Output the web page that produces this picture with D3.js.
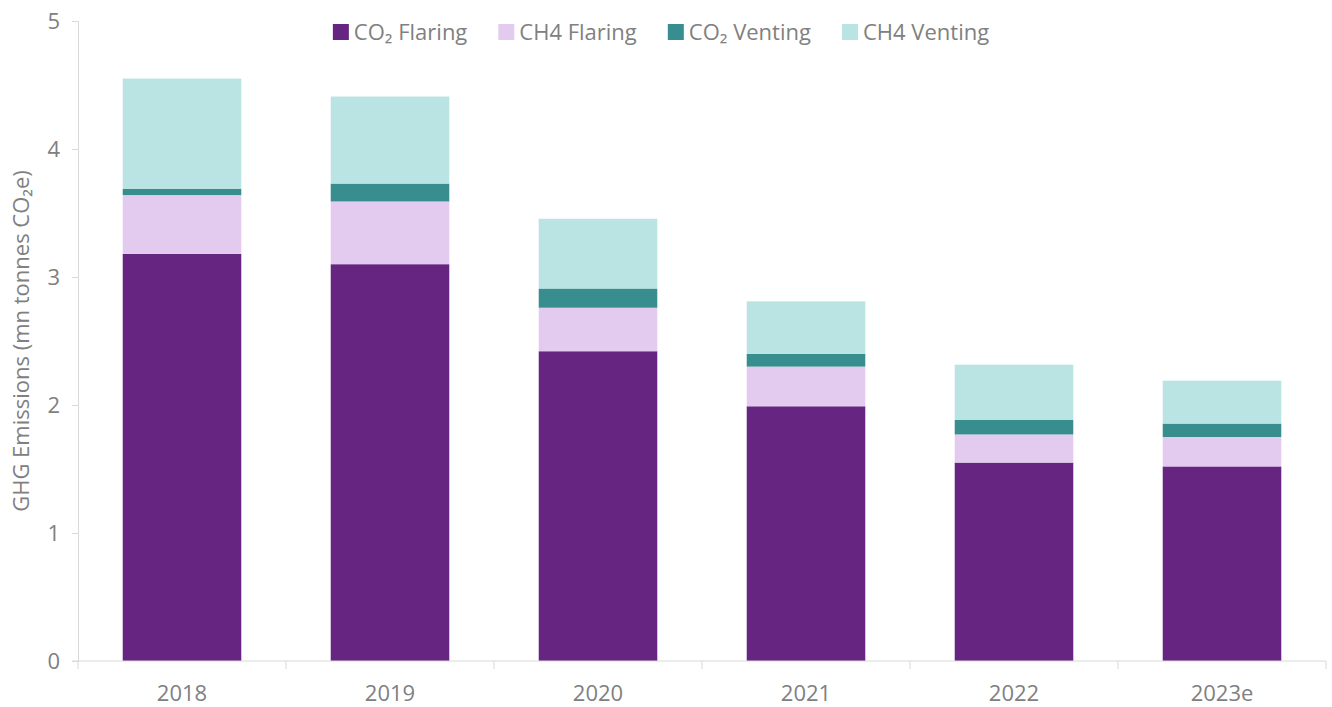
<!DOCTYPE html>
<html>
<head>
<meta charset="utf-8">
<script src="https://cdn.jsdelivr.net/npm/d3@7"></script>
<style>
  body { margin: 0; background: #fff; }
  text { font-family: "Open Sans", "Noto Sans", sans-serif; fill: #808080; }
</style>
</head>
<body>
<div id="chart"></div>
<script>
// chart data
var years = ["2018", "2019", "2020", "2021", "2022", "2023e"];
var seriesNames = ["CO₂ Flaring", "CH4 Flaring", "CO₂ Venting", "CH4 Venting"];
var co2Flaring = [3.18, 3.10, 2.42, 1.99, 1.55, 1.52];
var ch4Flaring = [0.46, 0.49, 0.34, 0.31, 0.22, 0.23];
var co2Venting = [0.05, 0.14, 0.15, 0.10, 0.115, 0.105];
var ch4Venting = [0.86, 0.68, 0.545, 0.41, 0.43, 0.335];
var yTicks = [0, 1, 2, 3, 4, 5];
var colors = ["#652581", "#e3caef", "#388e8e", "#bae4e4"];

var width = 1332, height = 707;
var margin = { top: 21, right: 6, bottom: 46, left: 78 };

var svg = d3.select("#chart")
  .append("svg")
    .attr("width", width)
    .attr("height", height);

// build rows for the stack
var keys = ["a", "b", "c", "d"];
var rows = years.map(function(y, i) {
  return { year: y, a: co2Flaring[i], b: ch4Flaring[i], c: co2Venting[i], d: ch4Venting[i] };
});
var stacked = d3.stack().keys(keys)(rows);

var x = d3.scaleBand()
  .domain(years)
  .range([margin.left, width - margin.right])
  .paddingInner(0.43)
  .paddingOuter(0.215);

var xOuter = d3.scaleBand()
  .domain(years)
  .range([margin.left, width - margin.right]);

var y = d3.scaleLinear()
  .domain([0, 5])
  .range([height - margin.bottom, margin.top]);

// bars
svg.append("g")
  .selectAll("g")
  .data(stacked)
  .enter()
  .append("g")
    .attr("fill", function(d, i) { return colors[i]; })
  .selectAll("rect")
  .data(function(d) { return d; })
  .enter()
  .append("rect")
    .attr("x", function(d) { return x(d.data.year); })
    .attr("width", x.bandwidth())
    .attr("y", function(d) { return y(d[1]); })
    .attr("height", function(d) { return y(d[0]) - y(d[1]); });

// y axis
var yAxis = svg.append("g")
  .attr("transform", "translate(" + margin.left + ",0)")
  .call(d3.axisLeft(y).tickValues(yTicks).tickSize(6).tickPadding(12).tickFormat(d3.format("d")));
yAxis.select(".domain").attr("stroke", "#d9d9d9");
yAxis.selectAll(".tick line").attr("stroke", "#d9d9d9");
yAxis.selectAll(".tick text").attr("font-size", 22).attr("fill", "#808080")
  .style("font-family", "'Open Sans', sans-serif");

// x axis: line and ticks at category boundaries
var base = y(0);
svg.append("line")
  .attr("x1", margin.left - 6).attr("x2", width - margin.right)
  .attr("y1", base).attr("y2", base)
  .attr("stroke", "#d9d9d9");
var bounds = years.map(function(d) { return xOuter(d); }).concat([width - margin.right]);
svg.append("g").selectAll("line")
  .data(bounds)
  .enter()
  .append("line")
    .attr("x1", function(d) { return d; }).attr("x2", function(d) { return d; })
    .attr("y1", base).attr("y2", base + 8)
    .attr("stroke", "#d9d9d9");
svg.append("g").selectAll("text")
  .data(years)
  .enter()
  .append("text")
    .attr("x", function(d) { return xOuter(d) + xOuter.bandwidth() / 2; })
    .attr("y", base + 40)
    .attr("text-anchor", "middle")
    .attr("font-size", 22)
    .text(function(d) { return d; });

// y axis title
svg.append("text")
  .attr("transform", "translate(29," + (margin.top + (base - margin.top) / 2) + ") rotate(-90)")
  .attr("text-anchor", "middle")
  .attr("font-size", 22)
  .text("GHG Emissions (mn tonnes CO₂e)");

// legend
var legend = svg.append("g");
var lx = 0;
seriesNames.forEach(function(name, i) {
  var g = legend.append("g").attr("transform", "translate(" + lx + ",0)");
  g.append("rect").attr("x", 0).attr("y", -8).attr("width", 16).attr("height", 16).attr("fill", colors[i]);
  var t = g.append("text").attr("x", 21).attr("y", 0).attr("dy", "0.35em").attr("font-size", 22).text(name);
  lx += 21 + t.node().getComputedTextLength() + 31;
});
lx -= 31;
legend.attr("transform", "translate(" + (661 - lx / 2) + ",32)");
</script>
</body>
</html>
